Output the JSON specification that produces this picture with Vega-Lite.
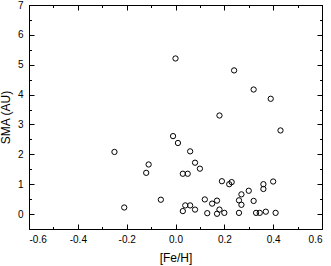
{
  "$schema": "https://vega.github.io/schema/vega-lite/v6.json",
  "width": 293,
  "height": 224,
  "autosize": {"type": "none"},
  "padding": {"left": 29, "top": 5, "right": 9, "bottom": 37},
  "background": "white",
  "config": {
    "view": {"stroke": null},
    "axis": {
      "domainColor": "black", "domainWidth": 1, "tickColor": "black", "tickWidth": 1,
      "labelFont": "Liberation Sans", "labelFontSize": 10, "labelColor": "black",
      "titleFont": "Liberation Sans", "titleFontSize": 12, "titleFontWeight": "normal", "titleColor": "black",
      "grid": false
    }
  },
  "data": {"values": [
    {"feh": 0.00, "sma": 5.21}, {"feh": 0.24, "sma": 4.81}, {"feh": 0.32, "sma": 4.17},
    {"feh": 0.39, "sma": 3.86}, {"feh": 0.18, "sma": 3.30}, {"feh": 0.43, "sma": 2.80},
    {"feh": -0.01, "sma": 2.61}, {"feh": 0.01, "sma": 2.38}, {"feh": -0.25, "sma": 2.08},
    {"feh": 0.06, "sma": 2.10}, {"feh": -0.11, "sma": 1.66}, {"feh": -0.12, "sma": 1.38},
    {"feh": 0.08, "sma": 1.72}, {"feh": 0.10, "sma": 1.52}, {"feh": 0.03, "sma": 1.35},
    {"feh": 0.05, "sma": 1.35}, {"feh": 0.19, "sma": 1.10}, {"feh": 0.22, "sma": 1.00},
    {"feh": 0.23, "sma": 1.07}, {"feh": 0.36, "sma": 1.00}, {"feh": 0.36, "sma": 0.84},
    {"feh": 0.40, "sma": 1.09}, {"feh": 0.30, "sma": 0.78}, {"feh": 0.27, "sma": 0.66},
    {"feh": 0.26, "sma": 0.46}, {"feh": 0.27, "sma": 0.31}, {"feh": 0.32, "sma": 0.44},
    {"feh": -0.06, "sma": 0.48}, {"feh": -0.21, "sma": 0.22}, {"feh": 0.12, "sma": 0.49},
    {"feh": 0.15, "sma": 0.35}, {"feh": 0.17, "sma": 0.45}, {"feh": 0.18, "sma": 0.15},
    {"feh": 0.17, "sma": 0.01}, {"feh": 0.20, "sma": 0.04}, {"feh": 0.13, "sma": 0.03},
    {"feh": 0.03, "sma": 0.10}, {"feh": 0.04, "sma": 0.29}, {"feh": 0.06, "sma": 0.29},
    {"feh": 0.08, "sma": 0.15}, {"feh": 0.26, "sma": 0.04}, {"feh": 0.33, "sma": 0.04},
    {"feh": 0.345, "sma": 0.04}, {"feh": 0.37, "sma": 0.08}, {"feh": 0.41, "sma": 0.04}
  ]},
  "resolve": {"axis": {"x": "independent", "y": "independent"}},
  "layer": [
    {
      "mark": {"type": "point", "shape": "circle", "filled": false, "stroke": "black", "strokeWidth": 1, "size": 28, "opacity": 1},
      "encoding": {
        "x": {"field": "feh", "type": "quantitative", "scale": {"domain": [-0.6, 0.6], "nice": false, "zero": false},
          "axis": {"orient": "bottom", "values": [-0.6, -0.4, -0.2, 0, 0.2, 0.4, 0.6], "tickSize": -5, "labelPadding": 10,
            "labelExpr": "datum.value < -0.001 ? '-' + format(-datum.value, '.1f') : format(abs(datum.value), '.1f')",
            "title": "[Fe/H]", "titlePadding": 8}},
        "y": {"field": "sma", "type": "quantitative", "scale": {"domain": [-0.5, 7], "nice": false, "zero": false},
          "axis": {"orient": "left", "values": [0, 1, 2, 3, 4, 5, 6, 7], "tickSize": -5, "labelPadding": 11,
            "format": "d", "title": "SMA (AU)", "titlePadding": 5}}
      }
    },
    {
      "mark": {"type": "point", "opacity": 0},
      "encoding": {
        "x": {"field": "feh", "type": "quantitative",
          "axis": {"orient": "bottom", "values": [-0.5, -0.3, -0.1, 0.1, 0.3, 0.5], "tickSize": -2.5, "labels": false, "domain": false, "title": null}},
        "y": {"field": "sma", "type": "quantitative",
          "axis": {"orient": "left", "values": [-0.5, 0.5, 1.5, 2.5, 3.5, 4.5, 5.5, 6.5], "tickSize": -2.5, "labels": false, "domain": false, "title": null}}
      }
    },
    {
      "mark": {"type": "point", "opacity": 0},
      "encoding": {
        "x": {"field": "feh", "type": "quantitative",
          "axis": {"orient": "top", "values": [-0.6, -0.4, -0.2, 0, 0.2, 0.4, 0.6], "tickSize": -5, "labels": false, "title": null}},
        "y": {"field": "sma", "type": "quantitative",
          "axis": {"orient": "right", "values": [0, 1, 2, 3, 4, 5, 6, 7], "tickSize": -5, "labels": false, "title": null}}
      }
    },
    {
      "mark": {"type": "point", "opacity": 0},
      "encoding": {
        "x": {"field": "feh", "type": "quantitative",
          "axis": {"orient": "top", "values": [-0.5, -0.3, -0.1, 0.1, 0.3, 0.5], "tickSize": -2.5, "labels": false, "domain": false, "title": null}},
        "y": {"field": "sma", "type": "quantitative",
          "axis": {"orient": "right", "values": [-0.5, 0.5, 1.5, 2.5, 3.5, 4.5, 5.5, 6.5], "tickSize": -2.5, "labels": false, "domain": false, "title": null}}
      }
    }
  ]
}
